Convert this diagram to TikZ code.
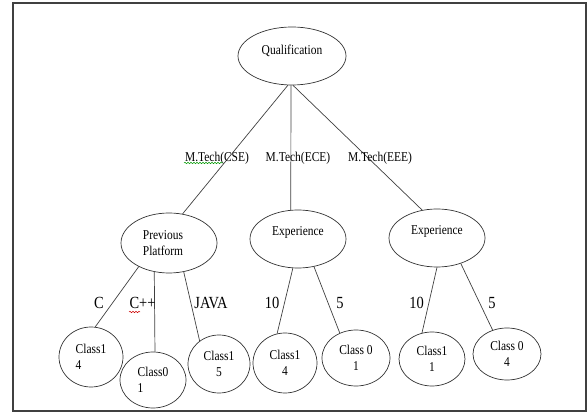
\documentclass[tikz,border=0pt]{standalone}
\usepackage{fontspec}
\setmainfont{Liberation Serif}[FakeStretch=0.85]
\usetikzlibrary{shapes.geometric,decorations.pathmorphing}

\begin{document}
\begin{tikzpicture}[x=1pt,y=1pt,
    every node/.style={font=\fontsize{13.5}{16}\selectfont},
    oval/.style={draw=black!80, ellipse, line width=0.7pt, inner sep=0pt},
    raised/.style={text height=10pt, text depth=#1},
    branch/.style={draw=black!75, line width=0.7pt},
    edgetext/.style={font=\fontsize{17}{18}\selectfont},
    squiggle/.style={decorate, decoration={snake, amplitude=0.7pt, segment length=3pt}, line width=0.5pt}]
    % Page and frame
    \useasboundingbox (0,0) rectangle (587,-414);
    \draw[line width=1.2pt, black!75] (13,-3) rectangle (586,-411);

    % Root and second level
    \node[oval, minimum width=108pt, minimum height=58pt, raised=13pt] (qual) at (292,-56) {Qualification};
    \node[oval, minimum width=96pt, minimum height=60pt, align=left] (prev) at (169,-243) {Previous\\Platform\hspace*{12pt}};
    \node[oval, minimum width=96pt, minimum height=58pt, raised=17pt] (expa) at (298,-239) {Experience};
    \node[oval, minimum width=96pt, minimum height=58pt, raised=17pt] (expb) at (437,-238) {Experience};

    % Leaves
    \node[oval, minimum width=64pt, minimum height=60pt, align=left] (cfour) at (91,-357) {Class1\\4};
    \node[oval, minimum width=66pt, minimum height=56pt, align=left] (cone) at (153,-380) {Class0\\1};
    \node[oval, minimum width=62pt, minimum height=58pt, align=center] (cfive) at (219,-364) {Class1\\5};
    \node[oval, minimum width=64pt, minimum height=60pt, align=center] (cfourb) at (285,-363) {Class1\\4};
    \node[oval, minimum width=68pt, minimum height=56pt, align=center] (coneb) at (356,-358) {Class 0\\1};
    \node[oval, minimum width=66pt, minimum height=54pt, align=center] (conec) at (432,-359) {Class1\\1};
    \node[oval, minimum width=68pt, minimum height=52pt, align=center] (cfourc) at (507,-354) {Class 0\\4};

    % Branches
    \draw[branch] (qual.-98) -- (prev.65);
    \draw[branch] (qual.-92) -- (expa.104);
    \draw[branch] (qual.-88) -- (expb.118);
    \draw[branch] (prev.-142) -- (cfour.82);
    \draw[branch] (prev.-117) -- (cone.86);
    \draw[branch] (prev.-63) -- (cfive.130);
    \draw[branch] (expa.-100) -- (cfourb.105);
    \draw[branch] (expa.-60) -- (coneb.123);
    \draw[branch] (expb.-90) -- (conec.111);
    \draw[branch] (expb.-47) -- (cfourc.121);

    % Branch labels
    \node (lcse) at (217,-158) {M.Tech(CSE)};
    \node (lece) at (298,-158) {M.Tech(ECE)};
    \node (leee) at (380,-158) {M.Tech(EEE)};
    \node[edgetext] (lc) at (99,-303) {C};
    \node[edgetext] (lcpp) at (142.5,-303) {C++};
    \node[edgetext] (ljava) at (211,-303) {JAVA};
    \node[edgetext] (lten) at (272,-303) {10};
    \node[edgetext] (lfive) at (340,-303) {5};
    \node[edgetext] (ltenb) at (416.5,-303) {10};
    \node[edgetext] (lfiveb) at (492,-303) {5};

    % Spell check marks
    \draw[squiggle, green!60!black] (184,-163) -- (223,-163);
    \draw[squiggle, red!80!black] (129,-312) -- (140,-312);
\end{tikzpicture}
\end{document}
